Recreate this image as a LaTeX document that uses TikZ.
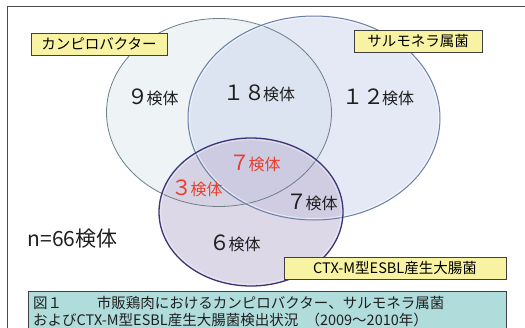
\documentclass[tikz,border=0pt]{standalone}
\usepackage{fontspec}
\setmainfont{Noto Sans CJK JP}
\definecolor{campyfill}{HTML}{EEF3F5}
\definecolor{salmfill}{HTML}{CFD8EE}
\definecolor{ctxfill}{HTML}{BDB3D3}
\definecolor{campyline}{HTML}{6E8088}
\definecolor{salmline}{HTML}{6A80A8}
\definecolor{ctxline}{HTML}{3E3678}
\definecolor{lblfill}{HTML}{F8F3A2}
\definecolor{capfill}{HTML}{B0DCDC}
\definecolor{redtxt}{HTML}{E8402E}
\begin{document}
\begin{tikzpicture}[x=1pt,y=-1pt,
  lbl/.style={draw=black!75,line width=0.7pt,fill=lblfill,inner sep=0pt,minimum height=22pt,font=\fontsize{14.5}{15}\selectfont},
  cnt/.style={inner sep=0pt,text=black!88},
  redcnt/.style={cnt,text=redtxt},
  capline/.style={anchor=west,inner sep=0pt,text=black!88,font=\fontsize{14.5}{15}\selectfont}]
\newcommand\kt[1]{{\fontsize{21}{21}\selectfont #1}\kern-0.2em{\fontsize{16}{16}\selectfont 検体}}
\useasboundingbox (0,0) rectangle (525,327);
\fill[white] (0,0) rectangle (525,327);
% frame
\draw[black!70,line width=0.8pt] (7,330) -- (7,6) -- (530,6);
% circle fills
\fill[campyfill] (219,112.5) ellipse [x radius=112.5,y radius=94];
\fill[salmfill, fill opacity=0.55] (314,118) ellipse [x radius=126,y radius=102];
\fill[ctxfill, fill opacity=0.5] (251,212) ellipse [x radius=92,y radius=74];
% circle outlines
\draw[campyline,line width=0.8pt] (219,112.5) ellipse [x radius=112.5,y radius=94];
\draw[salmline,line width=1pt] (314,118) ellipse [x radius=126,y radius=102];
\draw[white,opacity=0.6,line width=0.8pt] (314,118) ellipse [x radius=124.5,y radius=100.5];
\draw[ctxline,line width=1.3pt] (251,212) ellipse [x radius=92,y radius=74];
\draw[white,opacity=0.5,line width=0.8pt] (251,212) ellipse [x radius=90.2,y radius=72.2];
% labels
\node[lbl,minimum width=136pt] (campy) at (99,44) {カンピロバクター};
\node[lbl,minimum width=128pt] (salmo) at (418,41) {サルモネラ属菌};
\node[lbl,minimum width=222pt] (ctx) at (395,268) {CTX-M型ESBL産生大腸菌};
% counts
\node[cnt] (c9) at (153,97) {\kt{９}};
\node[cnt] (c18) at (259,93) {\kt{１８}};
\node[cnt] (c12) at (378,97) {\kt{１２}};
\node[redcnt] (c7r) at (255,163) {\kt{７}};
\node[redcnt] (c3r) at (197,188) {\kt{３}};
\node[cnt] (c7) at (312,202) {\kt{７}};
\node[cnt] (c6) at (235,243) {\kt{６}};
\node[inner sep=0pt,text=black!88,font=\fontsize{21}{21}\selectfont] (n) at (72.5,239) {n=66検体};
% caption
\fill[fill=capfill, draw=black!75, line width=0.8pt] (28,330) -- (28,291) -- (506,291) -- (506,330);
\node[capline] (cap1) at (33,303) {図１\hspace{2.4em}市販鶏肉におけるカンピロバクター、サルモネラ属菌};
\node[capline] (cap2) at (33,320) {およびCTX-M型ESBL産生大腸菌検出状況\hspace{0.5em}（2009～2010年）};
\end{tikzpicture}
\end{document}
